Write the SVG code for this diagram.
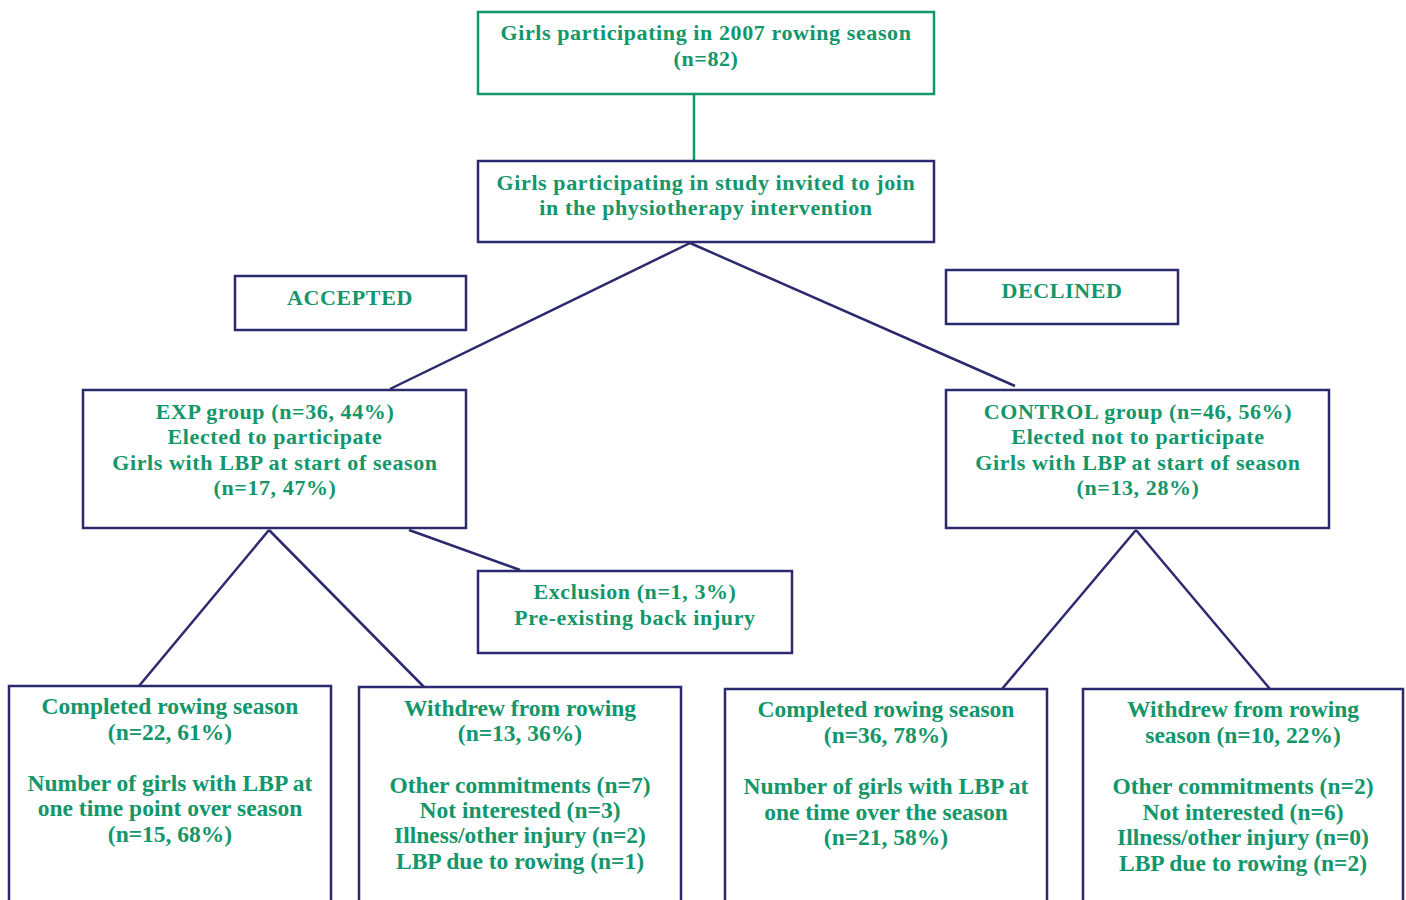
<svg xmlns="http://www.w3.org/2000/svg" width="1406" height="900" viewBox="0 0 1406 900">
<style>
.t{font-family:"Liberation Serif","Times New Roman",serif;font-weight:bold;font-size:22px;letter-spacing:0.6px;fill:#12966a;text-anchor:middle}
.b{font-size:23.5px;letter-spacing:0}
.n{fill:#fff;stroke:#2b2a6e;stroke-width:2.5}
.g{fill:#fff;stroke:#12966a;stroke-width:2.5}
.c{stroke:#2b2a6e;stroke-width:2.5;fill:none}
</style>
<rect width="1406" height="900" fill="#fff"/>
<g id="connectors">
<line x1="694" y1="94" x2="694" y2="160" stroke="#12966a" stroke-width="2.5"/>
<line class="c" x1="690" y1="243" x2="390" y2="389"/>
<line class="c" x1="690" y1="243" x2="1015" y2="386"/>
<line class="c" x1="269" y1="530" x2="139" y2="686"/>
<line class="c" x1="269" y1="530" x2="424" y2="687"/>
<line class="c" x1="409" y1="530" x2="520" y2="570"/>
<line class="c" x1="1136" y1="530" x2="1002" y2="689"/>
<line class="c" x1="1136" y1="530" x2="1270" y2="689"/>
</g>
<g id="n1">
<rect class="g" x="478" y="12" width="456" height="82"/>
<text class="t" x="706" y="40">Girls participating in 2007 rowing season</text>
<text class="t" x="706" y="66">(n=82)</text>
</g>
<g id="n2">
<rect class="n" x="478" y="161" width="456" height="81"/>
<text class="t" x="706" y="190">Girls participating in study invited to join</text>
<text class="t" x="706" y="215">in the physiotherapy intervention</text>
</g>
<g id="accepted">
<rect class="n" x="235" y="276" width="231" height="54"/>
<text class="t" x="350" y="305">ACCEPTED</text>
</g>
<g id="declined">
<rect class="n" x="946" y="270" width="232" height="54"/>
<text class="t" x="1062" y="298">DECLINED</text>
</g>
<g id="exp">
<rect class="n" x="83" y="390" width="383" height="138"/>
<text class="t" x="275" y="419">EXP group (n=36, 44%)</text>
<text class="t" x="275" y="444">Elected to participate</text>
<text class="t" x="275" y="470">Girls with LBP at start of season</text>
<text class="t" x="275" y="495">(n=17, 47%)</text>
</g>
<g id="control">
<rect class="n" x="946" y="390" width="383" height="138"/>
<text class="t" x="1138" y="419">CONTROL group (n=46, 56%)</text>
<text class="t" x="1138" y="444">Elected not to participate</text>
<text class="t" x="1138" y="470">Girls with LBP at start of season</text>
<text class="t" x="1138" y="495">(n=13, 28%)</text>
</g>
<g id="exclusion">
<rect class="n" x="478" y="571" width="314" height="82"/>
<text class="t" x="635" y="599">Exclusion (n=1, 3%)</text>
<text class="t" x="635" y="625">Pre-existing back injury</text>
</g>
<g id="exp-completed">
<rect class="n" x="9" y="686" width="322" height="220"/>
<text class="t b" x="170" y="714">Completed rowing season</text>
<text class="t b" x="170" y="740">(n=22, 61%)</text>
<text class="t b" x="170" y="791">Number of girls with LBP at</text>
<text class="t b" x="170" y="816">one time point over season</text>
<text class="t b" x="170" y="842">(n=15, 68%)</text>
</g>
<g id="exp-withdrew">
<rect class="n" x="359" y="687" width="322" height="220"/>
<text class="t b" x="520" y="716">Withdrew from rowing</text>
<text class="t b" x="520" y="741">(n=13, 36%)</text>
<text class="t b" x="520" y="793">Other commitments (n=7)</text>
<text class="t b" x="520" y="818">Not interested (n=3)</text>
<text class="t b" x="520" y="843">Illness/other injury (n=2)</text>
<text class="t b" x="520" y="869">LBP due to rowing (n=1)</text>
</g>
<g id="ctl-completed">
<rect class="n" x="725" y="689" width="322" height="220"/>
<text class="t b" x="886" y="717">Completed rowing season</text>
<text class="t b" x="886" y="743">(n=36, 78%)</text>
<text class="t b" x="886" y="794">Number of girls with LBP at</text>
<text class="t b" x="886" y="820">one time over the season</text>
<text class="t b" x="886" y="845">(n=21, 58%)</text>
</g>
<g id="ctl-withdrew">
<rect class="n" x="1083" y="689" width="320" height="220"/>
<text class="t b" x="1243" y="717">Withdrew from rowing</text>
<text class="t b" x="1243" y="743">season (n=10, 22%)</text>
<text class="t b" x="1243" y="794">Other commitments (n=2)</text>
<text class="t b" x="1243" y="820">Not interested (n=6)</text>
<text class="t b" x="1243" y="845">Illness/other injury (n=0)</text>
<text class="t b" x="1243" y="871">LBP due to rowing (n=2)</text>
</g>
</svg>
